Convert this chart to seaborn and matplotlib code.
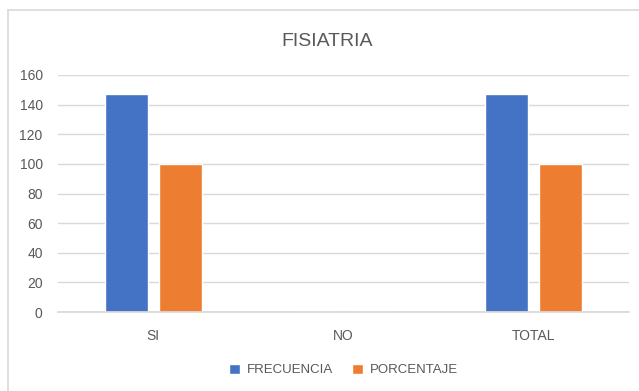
import matplotlib
matplotlib.use("Agg")
import matplotlib.pyplot as plt
import seaborn as sns
import pandas as pd
from matplotlib.lines import Line2D

categories = ["SI", "NO", "TOTAL"]
frecuencia = [147, 0, 147]
porcentaje = [100, 0, 100]
series_names = ["FRECUENCIA", "PORCENTAJE"]
yticks = [0, 20, 40, 60, 80, 100, 120, 140, 160]

df = pd.DataFrame({
    "cat": categories * 2,
    "serie": [series_names[0]] * 3 + [series_names[1]] * 3,
    "val": frecuencia + porcentaje,
})

sns.set_theme(style="white")
plt.rcParams['font.family'] = ['Liberation Sans', 'DejaVu Sans']

W, H = 639, 391
fig = plt.figure(figsize=(6.39, 3.91), dpi=100)
ax = fig.add_axes([58 / W, 1 - 312 / H, (629 - 58) / W, (312 - 75) / H])

sns.barplot(data=df, x="cat", y="val", hue="serie", order=categories,
            hue_order=series_names, palette=["#4472C4", "#ED7D31"],
            width=0.567, gap=0.204, ax=ax, legend=True, saturation=1)

ax.set_ylim(0, 160)
ax.set_yticks(yticks)
ax.set_xlim(-0.5, 2.5)
ax.yaxis.grid(True, color="#D9D9D9", linewidth=1)
ax.set_axisbelow(True)
for s in ["left", "right", "top"]:
    ax.spines[s].set_visible(False)
ax.spines["bottom"].set_color("#D9D9D9")
ax.set_xlabel("")
ax.set_ylabel("")
ax.tick_params(axis="both", colors="#595959", labelsize=10, length=0)
ax.tick_params(axis="x", pad=12)
ax.tick_params(axis="y", pad=11)

fig.text(0.512, 1 - 42 / H, "FISIATRIA", ha="center", va="center",
         fontsize=14, color="#595959")

leg = ax.legend(loc="center", bbox_to_anchor=(0.5, (312 - 370) / (312 - 75)),
                ncol=2, frameon=False,
                fontsize=9.5, handlelength=0.8, handleheight=0.8, columnspacing=1.5,
                handletextpad=0.5)
for t in leg.get_texts():
    t.set_color("#595959")

fig.add_artist(Line2D([7.5 / W, 1], [1 - 9.5 / H, 1 - 9.5 / H], transform=fig.transFigure,
                      color="#D9D9D9", linewidth=1.2))
fig.add_artist(Line2D([7.5 / W, 7.5 / W], [0, 1 - 9.5 / H], transform=fig.transFigure,
                      color="#D9D9D9", linewidth=1.2))

fig.savefig("out.png", dpi=100, facecolor="white")
